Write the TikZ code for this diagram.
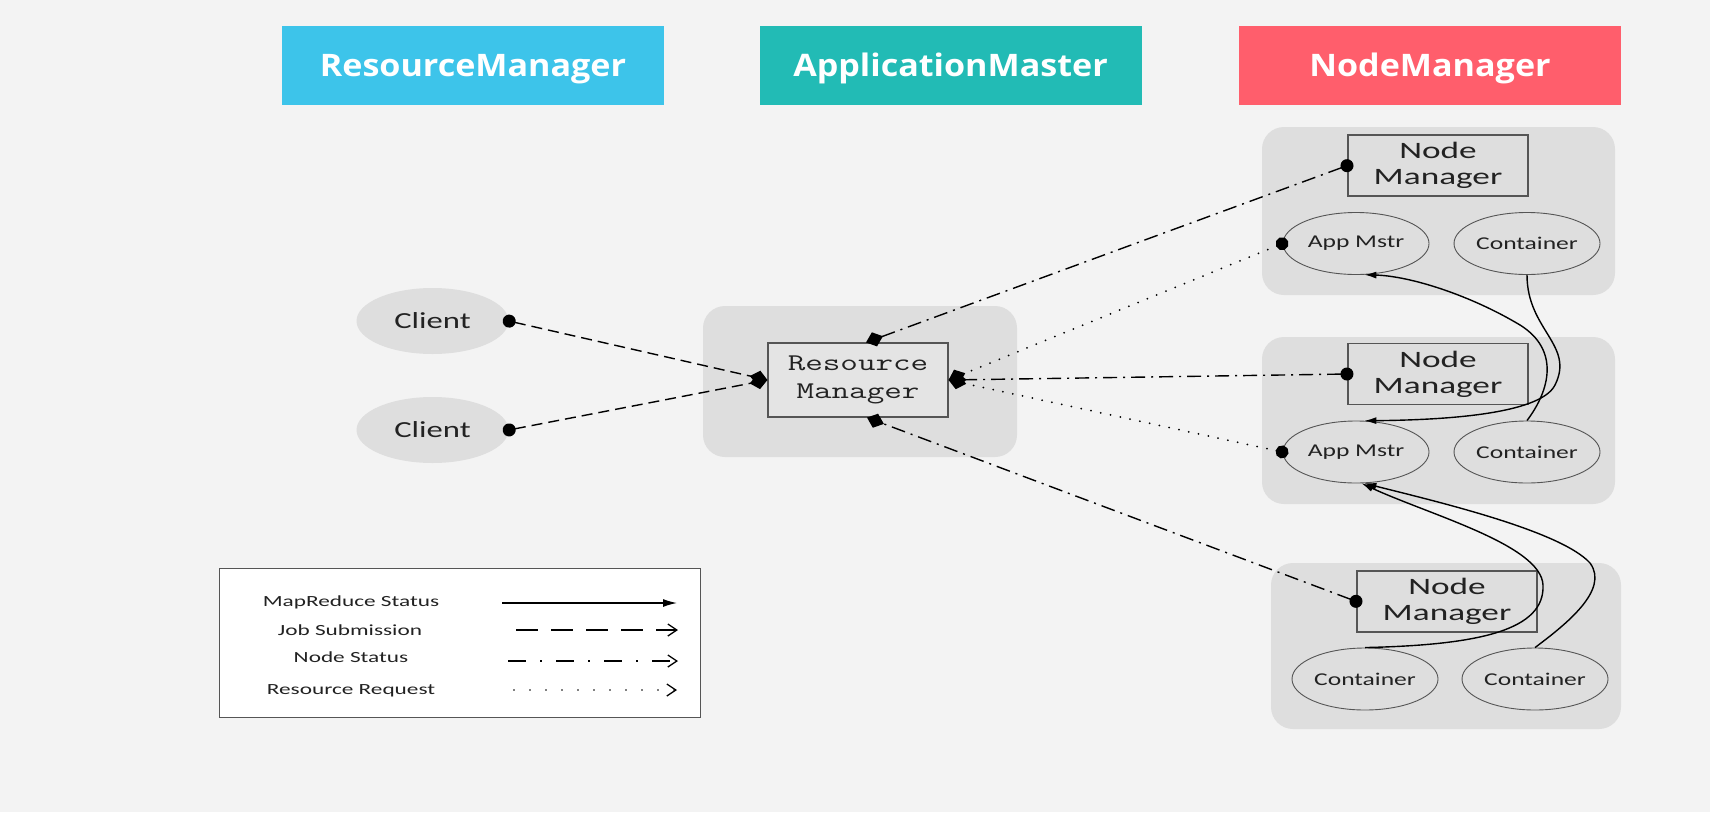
\documentclass[tikz,border=0pt]{standalone}
\usepackage{fontspec}
\usepackage{graphicx}
\usetikzlibrary{arrows.meta,shapes.geometric}
\newfontfamily\hfont[FakeStretch=1.1]{Open Sans}
\newfontfamily\dfont[FakeStretch=1.42]{Carlito}
\newfontfamily\nfont[FakeStretch=1.5]{Carlito}
\newfontfamily\lfont[FakeStretch=1.5]{Carlito}
\newcommand\monotxt[1]{\scalebox{1.42}[1]{\ttfamily\fontsize{24}{28}\selectfont #1}}
\definecolor{bgc}{HTML}{F3F3F3}
\definecolor{grp}{HTML}{DEDEDE}
\definecolor{boxc}{HTML}{E4E4E4}
\definecolor{rmc}{HTML}{3DC4EA}
\definecolor{amc}{HTML}{22BBB5}
\definecolor{nmc}{HTML}{FF5E6C}
\definecolor{edgec}{HTML}{555555}
\definecolor{txtc}{HTML}{222222}
\begin{document}
\begin{tikzpicture}[x=1pt,y=-1pt,
 header/.style={minimum width=382pt,minimum height=79pt,inner sep=0pt,text=white,font=\hfont\bfseries\fontsize{31}{36}\selectfont},
 htext/.style={inner sep=0pt,text=white,font=\hfont\bfseries\fontsize{31}{36}\selectfont},
 group/.style={fill=grp,rounded corners=22pt},
 nmbox/.style={draw=edgec,line width=1.1pt,fill=grp,minimum width=180pt,minimum height=61pt,inner sep=0pt,align=center,text=txtc,font=\nfont\fontsize{23.5}{26}\selectfont},
 ell/.style={ellipse,draw=edgec,line width=0.9pt,minimum width=146pt,minimum height=62pt,inner sep=0pt,text=txtc,font=\dfont\fontsize{18}{20}\selectfont},
 client/.style={ellipse,fill=grp,minimum width=152pt,minimum height=66pt,inner sep=0pt,text=txtc,font=\dfont\fontsize{23}{25}\selectfont},
 legtext/.style={inner sep=0pt,text=txtc,font=\lfont\fontsize{15.5}{18}\selectfont},
 jobsub/.style={line width=1.4pt,dash pattern=on 11pt off 6pt},
 nodestat/.style={line width=1.4pt,dash pattern=on 14pt off 6pt on 2pt off 6pt},
 resreq/.style={line width=2pt,line cap=round,dash pattern=on 0pt off 10pt},
 conn/.style={{Circle[length=13pt]}-{Diamond[length=18pt,width=15pt]},shorten <=-6pt},
 mrarrow/.style={line width=1.4pt,-{Latex[length=12pt,width=7pt]}},
 openarrow/.style={-{Straight Barb[length=9pt,width=12pt,line width=1.3pt]}},
]
\fill[bgc] (0,0) rectangle (1710,812);
\useasboundingbox (0,0) rectangle (1710,812);

% headers
\node[header,fill=rmc] (hrm) at (473,65.5) {};
\node[header,fill=amc] (ham) at (950.5,65.5) {};
\node[header,fill=nmc] (hnm) at (1430,65.5) {};
\node[htext,anchor=base] (hrmt) at ([yshift=-11pt]hrm.center) {ResourceManager};
\node[htext,anchor=base] (hamt) at ([yshift=-11pt]ham.center) {ApplicationMaster};
\node[htext,anchor=base] (hnmt) at ([yshift=-11pt]hnm.center) {NodeManager};

% group backgrounds
\fill[group] (703,306) rectangle (1017,457);
\fill[group] (1262,127) rectangle (1615,295);
\fill[group] (1262,337) rectangle (1615,504);
\fill[group] (1271,563) rectangle (1621,729);

% clients
\node[client] (cl1) at (432.5,321) {Client};
\node[client] (cl2) at (432.5,430) {Client};

% resource manager
\node[draw=edgec,line width=1.1pt,fill=boxc,minimum width=180pt,minimum height=74pt,inner sep=0pt,align=center,text=txtc,font=\fontsize{24}{28}\selectfont] (rm) at (858,380) {\monotxt{Resource}\\\monotxt{Manager}};

% node managers
\node[nmbox] (nm1) at (1438,165.5) {Node\\Manager};
\node[ell] (am1) at (1356,243.5) {App Mstr};
\node[ell] (c1) at (1527,243.5) {Container};

\node[nmbox] (nm2) at (1438,374) {Node\\Manager};
\node[ell] (am2) at (1356,452) {App Mstr};
\node[ell] (c2) at (1527,452) {Container};

\node[nmbox] (nm3) at (1447,601.5) {Node\\Manager};
\node[ell] (c3a) at (1365,679) {Container};
\node[ell] (c3b) at (1535,679) {Container};

% job submission
\draw[jobsub,conn] (cl1.east) -- (rm.west);
\draw[jobsub,conn] (cl2.east) -- (rm.west);
% node status
\draw[nodestat,conn] (nm1.west) -- ([xshift=8pt]rm.north);
\draw[nodestat,conn] (nm2.west) -- (rm.east);
\draw[nodestat,conn] (nm3.west) -- ([xshift=9pt]rm.south);
% resource request
\draw[resreq,conn] (am1.west) -- (rm.east);
\draw[resreq,conn] (am2.west) -- (rm.east);

% mapreduce status
\draw[mrarrow] (c1.south) .. controls (1527,330) and (1575,345) .. (1555,385) .. controls (1540,415) and (1440,420) .. (am2.75);
\draw[mrarrow] (c2.north) .. controls (1550,390) and (1560,350) .. (1520,325) .. controls (1470,295) and (1410,276) .. (am1.-75);
\draw[mrarrow] (c3a.north) .. controls (1480,645) and (1545,630) .. (1543,585) .. controls (1541,545) and (1430,515) .. (am2.-80);
\draw[mrarrow] (c3b.north) .. controls (1565,625) and (1610,590) .. (1590,563) .. controls (1560,530) and (1430,500) .. (am2.-75);

% legend
\node[draw=edgec,line width=1pt,fill=white,minimum width=481pt,minimum height=149pt,inner sep=0pt] (legend) at (459.5,642.5) {};
\node[legtext] (t1) at (351,602) {MapReduce Status};
\node[legtext] (t2) at (350,630) {Job Submission};
\node[legtext] (t3) at (351,657) {Node Status};
\node[legtext] (t4) at (351,691) {Resource Request};
\coordinate (a1) at (502,603); \coordinate (b1) at (677,603);
\coordinate (a2) at (516,630); \coordinate (b2) at (678,630);
\coordinate (a3) at (508,661); \coordinate (b3) at (678,661);
\coordinate (a4) at (514,690); \coordinate (b4) at (677,690);
\draw[line width=1.3pt,-{Latex[length=14pt,width=8pt]}] (a1) -- (b1);
\draw[line width=1.3pt,dash pattern=on 22pt off 13pt,openarrow] (a2) -- (b2);
\draw[line width=1.3pt,dash pattern=on 18pt off 14pt on 2pt off 14pt,openarrow] (a3) -- (b3);
\draw[line width=1.6pt,line cap=round,dash pattern=on 0pt off 16pt,openarrow] (a4) -- (b4);
\end{tikzpicture}
\end{document}
